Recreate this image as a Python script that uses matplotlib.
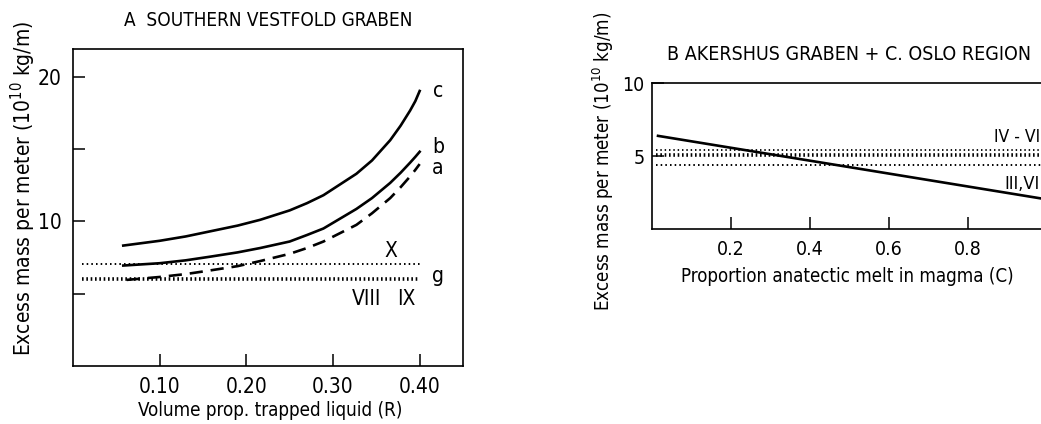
import matplotlib.pyplot as plt
import numpy as np

plt.rcParams['font.family'] = ['DejaVu Sans']
plt.rcParams['font.stretch'] = 'condensed'

# panel A: southern Vestfold graben
r_vals = [0.058, 0.10, 0.13, 0.158, 0.19, 0.216, 0.25, 0.27, 0.289, 0.327,
          0.345, 0.366, 0.378, 0.389, 0.395, 0.40]
curve_c = [8.32, 8.65, 8.95, 9.3, 9.7, 10.1, 10.75, 11.25, 11.8, 13.28,
           14.2, 15.6, 16.6, 17.65, 18.3, 19.0]
curve_b = [6.94, 7.1, 7.3, 7.55, 7.85, 8.15, 8.6, 9.05, 9.5, 10.85,
           11.6, 12.65, 13.35, 14.05, 14.45, 14.8]
r_vals_a = [0.062, 0.10, 0.13, 0.158, 0.19, 0.216, 0.25, 0.27, 0.289, 0.327,
            0.345, 0.366, 0.378, 0.389, 0.395, 0.40]
curve_a = [5.95, 6.15, 6.35, 6.6, 6.9, 7.25, 7.75, 8.15, 8.6, 9.75,
           10.55, 11.6, 12.35, 13.1, 13.55, 13.95]
level_x = 7.05
level_g = 6.0
level_start_a = 0.01

# panel B: Akershus graben + C. Oslo region
c_vals = [0.016, 1.0]
melt_line = [6.4, 2.05]
level_iv_top = 5.45
level_iv = 5.1
level_iii = 4.4
level_start_b = 0.01

W, H = 1041, 424
fig = plt.figure(figsize=(W / 100, H / 100), dpi=100)

def px(l, t, r, b):
    return [l / W, 1 - b / H, (r - l) / W, (b - t) / H]

lw_curve = 1.9
tick_kw = dict(direction='in', length=8.5, width=1.1, labelsize=15, pad=8)

# ---- A ----
ax = fig.add_axes(px(73, 49, 463, 366))
ax.set_xlim(0, 0.45)
ax.set_ylim(0, 21.9)
ax.plot(r_vals, curve_c, color='black', lw=lw_curve, solid_joinstyle='round')
ax.plot(r_vals, curve_b, color='black', lw=lw_curve, solid_joinstyle='round')
ax.plot(r_vals_a, curve_a, color='black', lw=lw_curve, ls=(0, (5, 3)))
ax.plot([level_start_a, 0.40], [level_x, level_x], color='black', lw=1.4, ls=(0, (0.8, 1.6)))
ax.plot([level_start_a, 0.40], [level_g, level_g], color='black', lw=2.6, ls=(0, (0.45, 0.75)))
ax.set_xticks([0.1, 0.2, 0.3, 0.4])
ax.set_xticklabels(['0.10', '0.20', '0.30', '0.40'])
ax.set_yticks([5, 10, 15, 20])
ax.set_yticklabels(['', '10', '', '20'])
ax.tick_params(**tick_kw)
for s in ax.spines.values():
    s.set_linewidth(1.2)
for lab, xx, yy in [('c', 0.421, 19.0), ('b', 0.421, 15.1), ('a', 0.421, 13.7),
                    ('X', 0.367, 7.95), ('g', 0.421, 6.25),
                    ('VIII', 0.339, 4.65), ('IX', 0.385, 4.65)]:
    ax.text(xx, yy, lab, ha='center', va='center', fontsize=15)
fig.text(270 / W, 1 - 411 / H, 'Volume prop. trapped liquid (R)',
         ha='center', va='center', fontsize=13.5)
fig.text(268 / W, 1 - 21 / H, 'A  SOUTHERN VESTFOLD GRABEN',
         ha='center', va='center', fontsize=13.6)
fig.text(23 / W, 1 - 188 / H, 'Excess mass per meter (10$^{10}$ kg/m)',
         rotation=90, ha='center', va='center', fontsize=15)

# ---- B ----
bx = fig.add_axes(px(651.7, 83.3, 651.7 + 1.05 * 395, 229.3))
bx.set_xlim(0, 1.05)
bx.set_ylim(0, 10)
bx.plot(c_vals, melt_line, color='black', lw=lw_curve)
bx.plot([level_start_b, 1.05], [level_iv_top, level_iv_top], color='black', lw=1.3, ls=(0, (0.8, 1.6)))
bx.plot([level_start_b, 1.05], [level_iv, level_iv], color='black', lw=2.6, ls=(0, (0.45, 0.75)))
bx.plot([level_start_b, 1.05], [level_iii, level_iii], color='black', lw=1.4, ls=(0, (0.8, 1.6)))
bx.set_xticks([0.2, 0.4, 0.6, 0.8])
bx.set_xticklabels(['0.2', '0.4', '0.6', '0.8'])
bx.set_yticks([5, 10])
bx.tick_params(**tick_kw)
bx.tick_params(labelsize=14)
bx.tick_params(axis='y', pad=5)
for s in bx.spines.values():
    s.set_linewidth(1.2)
bx.text(0.983, 6.35, 'IV - VI', ha='right', va='center', fontsize=12.5)
bx.text(0.983, 3.1, 'III,VI', ha='right', va='center', fontsize=13)
fig.text(849 / W, 1 - 55 / H, 'B AKERSHUS GRABEN + C. OSLO REGION',
         ha='center', va='center', fontsize=14)
fig.text(847 / W, 1 - 277 / H, 'Proportion anatectic melt in magma (C)',
         ha='center', va='center', fontsize=13.4)
fig.text(603 / W, 1 - 161 / H, 'Excess mass per meter (10$^{10}$ kg/m)',
         rotation=90, ha='center', va='center', fontsize=13.4)

fig.savefig('out.png', dpi=100)
